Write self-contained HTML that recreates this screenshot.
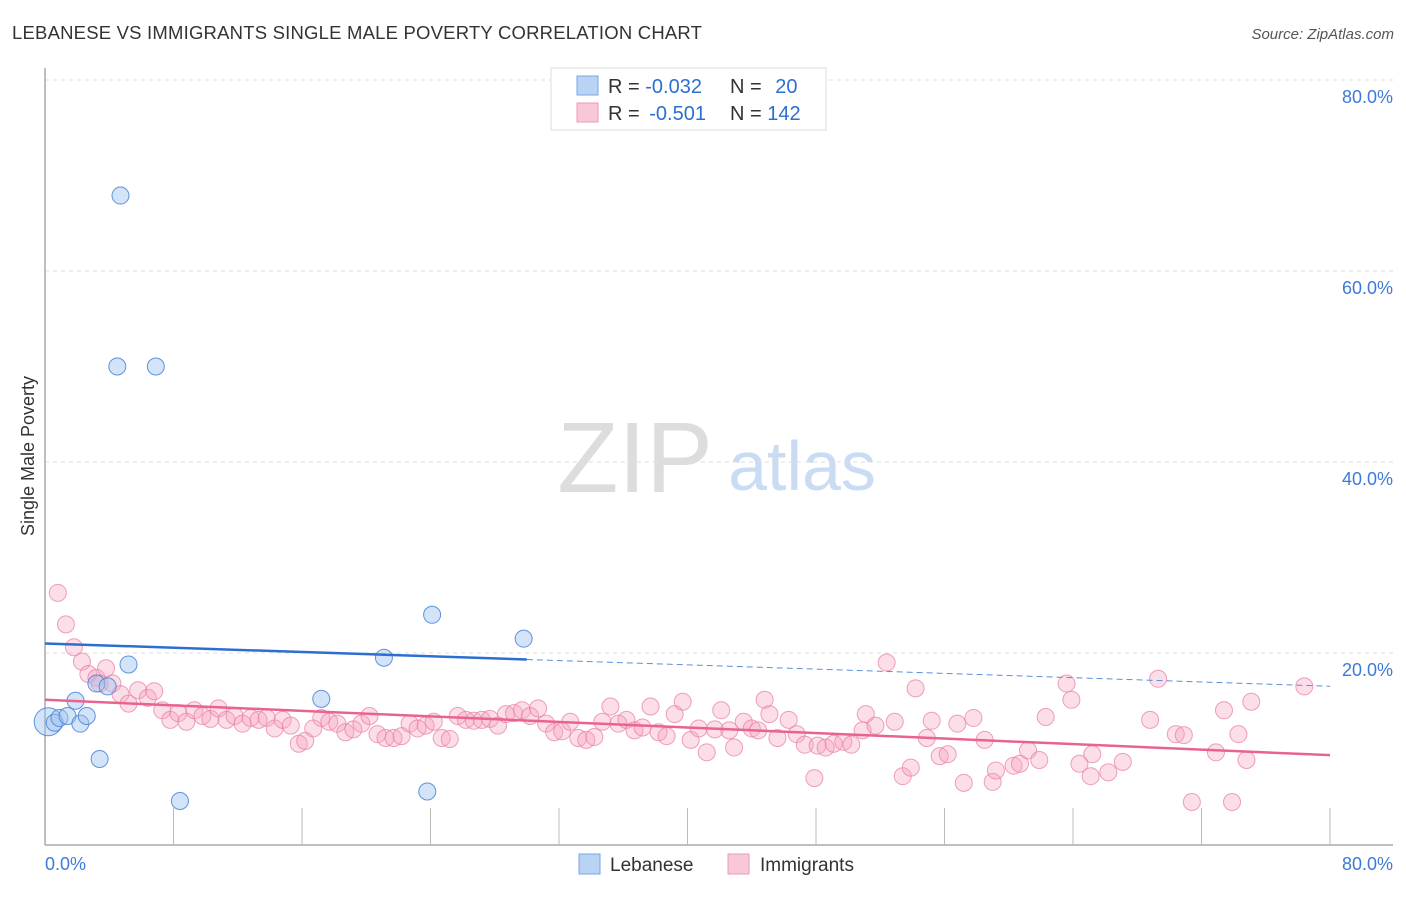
<!DOCTYPE html>
<html><head><meta charset="utf-8"><style>
body{margin:0;background:#fff;font-family:"Liberation Sans",sans-serif}
svg text{font-family:"Liberation Sans",sans-serif}
</style></head><body>
<svg id="c" width="1406" height="892" xmlns="http://www.w3.org/2000/svg">
<text x="12" y="39" font-size="18.5" letter-spacing="0.2" fill="#333">LEBANESE VS IMMIGRANTS SINGLE MALE POVERTY CORRELATION CHART</text>
<text x="1394" y="39" font-size="15" fill="#555" font-style="italic" text-anchor="end">Source: ZipAtlas.com</text>
<g>
<text x="635" y="492" font-size="100" fill="#ddd" font-family="Liberation Serif" text-anchor="middle">ZIP</text>
<text x="802" y="490" font-size="70" fill="#c9dcf3" text-anchor="middle">atlas</text>
</g>
<g id="grid"></g>
<g id="axes"></g>
<g id="marks"></g>
<text transform="translate(34,456) rotate(-90)" font-size="18" fill="#333" text-anchor="middle">Single Male Poverty</text>
<g>
<rect x="551" y="68" width="275" height="62" fill="#fff" stroke="#ddd"/>
<rect x="577" y="76" width="21" height="19" fill="#b9d3f5" stroke="#7aa5e2"/>
<rect x="577" y="103" width="21" height="19" fill="#f9c8d6" stroke="#eb9ab3"/>
<text x="608" y="93" font-size="20" fill="#333">R = <tspan fill="#2d6fd1">-0.032</tspan></text>
<text x="730" y="93" font-size="20" fill="#333">N = <tspan fill="#2d6fd1" dx="8">20</tspan></text>
<text x="608" y="120" font-size="20" fill="#333">R = <tspan fill="#2d6fd1" dx="4">-0.501</tspan></text>
<text x="730" y="120" font-size="20" fill="#333">N = <tspan fill="#2d6fd1">142</tspan></text>
</g>
<g>
<rect x="579" y="854" width="21" height="20" fill="#b9d3f5" stroke="#7aa5e2"/>
<text x="610" y="871" font-size="19" fill="#333">Lebanese</text>
<rect x="728" y="854" width="21" height="20" fill="#f9c8d6" stroke="#eb9ab3"/>
<text x="760" y="871" font-size="19" fill="#333">Immigrants</text>
</g>
</svg>
<script>
const yTicks=[20,40,60,80];
const xTickLabels=["0.0%","80.0%"];
const lebX=[0.2,0.6,0.9,1.4,1.9,2.2,2.6,3.2,3.4,3.9,4.7,4.5,5.2,6.9,8.4,17.2,21.1,23.8,24.1,29.8];
const lebY=[12.8,12.7,13.2,13.4,15.0,12.6,13.4,16.8,8.9,16.5,67.9,50.0,18.8,50.0,4.5,15.2,19.5,5.5,24.0,21.5];
const immX=[0.8,1.3,1.8,2.3,2.7,3.2,3.4,3.8,4.2,4.7,5.2,5.8,6.4,6.8,7.3,7.8,8.3,8.8,9.3,9.8,10.3,10.8,11.3,11.8,12.3,12.8,13.3,13.8,14.3,14.8,15.3,15.8,16.2,16.7,17.2,17.7,18.2,18.7,19.2,19.7,20.2,20.7,21.2,21.7,22.2,22.7,23.2,23.7,24.2,24.7,25.2,25.7,26.2,26.7,27.2,27.7,28.2,28.7,29.2,29.7,30.2,30.7,31.2,31.7,32.2,32.7,33.2,33.7,34.2,34.7,35.2,35.7,36.2,36.7,37.2,37.7,38.2,38.7,39.2,39.7,40.2,40.7,41.2,41.7,42.1,42.6,42.9,43.5,44.0,44.4,44.8,45.1,45.6,46.3,46.8,47.3,47.9,48.1,48.6,49.1,49.7,50.2,50.9,51.1,51.7,52.4,52.9,53.4,53.9,54.2,54.9,55.2,55.7,56.2,56.8,57.2,57.8,58.5,59.0,59.2,60.3,60.7,61.2,61.9,62.3,63.6,63.9,64.4,65.1,65.2,66.2,67.1,68.8,69.3,70.4,70.9,71.4,72.9,73.4,73.9,74.3,74.8,75.1,78.4];
const immY=[26.3,23.0,20.6,19.1,17.8,17.4,16.8,18.4,16.8,15.7,14.7,16.1,15.3,16.0,14.0,13.0,13.7,12.8,14.0,13.4,13.1,14.2,13.0,13.4,12.6,13.2,13.0,13.2,12.1,13.0,12.4,10.5,10.8,12.1,13.2,12.8,12.6,11.7,12.0,12.6,13.4,11.5,11.1,11.1,11.3,12.6,12.1,12.4,12.8,11.1,11.0,13.4,13.0,12.9,13.0,13.1,12.4,13.6,13.7,14.0,13.4,14.2,12.6,11.7,11.8,12.8,11.1,10.9,11.2,12.8,14.4,12.6,13.0,11.9,12.2,14.4,11.7,11.3,13.6,14.9,10.9,12.1,9.6,12.0,14.0,11.9,10.1,12.8,12.1,11.9,15.1,13.6,11.1,13.0,11.5,10.4,6.9,10.3,10.1,10.5,10.7,10.4,11.9,13.6,12.4,19.0,12.8,7.1,8.0,16.3,11.1,12.9,9.2,9.4,12.6,6.4,13.2,10.9,6.5,7.7,8.2,8.4,9.8,8.8,13.3,16.8,15.1,8.4,7.1,9.4,7.5,8.6,13.0,17.3,11.5,11.4,4.4,9.6,14.0,4.4,11.5,8.8,14.9,16.5];
const lebTrend=[21.0,-0.056];
const immTrend=[15.1,-0.0725];
const NS="http://www.w3.org/2000/svg";
const X0=45,X1=1330,Y0=844,Y1=80;
const sx=v=>X0+(v/80)*(X1-X0);
const sy=v=>Y0-(v/80)*(Y0-Y1);
function mk(parent,tag,attrs){const e=document.createElementNS(NS,tag);for(const k in attrs)e.setAttribute(k,attrs[k]);document.getElementById(parent).appendChild(e);return e;}
yTicks.forEach(t=>{
 const g=mk('grid','line',{x1:X0,x2:1393,y1:sy(t),y2:sy(t),stroke:'#ddd','stroke-dasharray':'4,4'});
 
 
 const l=mk('axes','text',{x:1393,y:sy(t)+23,'font-size':18,fill:'#3d7ad8','text-anchor':'end'});
 l.textContent=t.toFixed(1)+'%';
 
 
});
const yl=mk('axes','line',{x1:X0,x2:X0,y1:68,y2:845,stroke:'#aaa','stroke-width':1.5});


const xl=mk('axes','line',{x1:X0,x2:1393,y1:845,y2:845,stroke:'#aaa','stroke-width':1.5});


for(let i=1;i<=10;i++){const t=mk('axes','line',{x1:sx(i*8),x2:sx(i*8),y1:808,y2:845,stroke:'#bbb'});
 
 }
[[0,'start',45],[80,'end',1393]].forEach((d,i)=>{const t=mk('axes','text',{x:d[2],y:870,'font-size':18,fill:'#3d7ad8','text-anchor':d[1]});t.textContent=xTickLabels[i];
 
 });
immX.forEach((x,i)=>{const c=mk('marks','circle',{cx:sx(x),cy:sy(immY[i]),r:8.5,fill:'rgba(245,160,190,0.35)',stroke:'rgba(232,130,165,0.75)','stroke-width':1});
 
 });
lebX.forEach((x,i)=>{const c=mk('marks','circle',{cx:sx(x),cy:sy(lebY[i]),r:i==0?14:8.5,fill:'rgba(160,196,240,0.45)',stroke:'rgba(70,130,215,0.85)','stroke-width':1});
 
 });
const ty=(tr,x)=>tr[0]+tr[1]*x;
const l1=mk('marks','line',{x1:sx(0),y1:sy(ty(lebTrend,0)),x2:sx(30),y2:sy(ty(lebTrend,30)),stroke:'#2d6fd1','stroke-width':2.5});


const l2=mk('marks','line',{x1:sx(30),y1:sy(ty(lebTrend,30)),x2:sx(80),y2:sy(ty(lebTrend,80)),stroke:'#5b8fd8','stroke-width':1,'stroke-dasharray':'6,4'});


const l3=mk('marks','line',{x1:sx(0),y1:sy(ty(immTrend,0)),x2:sx(80),y2:sy(ty(immTrend,80)),stroke:'#e9638f','stroke-width':2.5});


</script>
</body></html>
